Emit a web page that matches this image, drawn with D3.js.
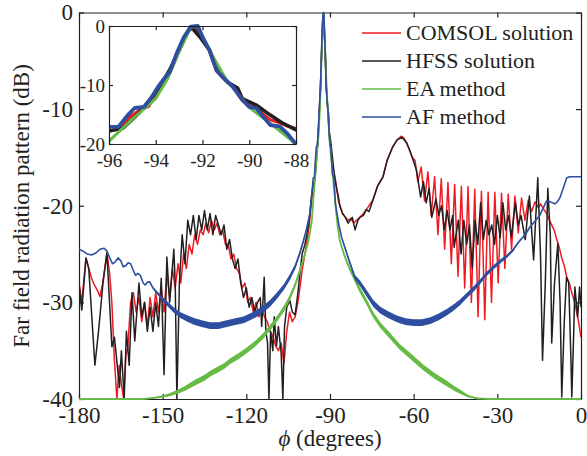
<!DOCTYPE html>
<html>
<head>
<meta charset="utf-8">
<script src="https://cdn.jsdelivr.net/npm/d3@7"></script>
<style>
body{margin:0;background:#fff}
svg text{font-family:"Liberation Serif","Times New Roman",serif;fill:#231f20}
</style>
</head>
<body>
<svg id="chart" width="587" height="456"></svg>
<script>
// values: [phi (deg), level (dB)]
var comsol = [
[-180,-28],[-179,-30],[-177.5,-25.4],[-176.5,-26.5],[-175.5,-27.5],[-174.5,-28.2],[-173.5,-28.7],[-172.5,-29.4],[-171.5,-28],[-170,-24.9],[-169,-27],[-168.2,-30.1],[-167.3,-36],[-166.4,-40],[-165.6,-36.5],[-164.8,-38.5],[-164,-40],[-163.2,-35.5],[-162.5,-34.7],[-161.5,-30],[-160.5,-29],[-159.5,-31],[-158.5,-29.5],[-157.5,-32],[-156.5,-30],[-155.5,-32.5],[-154.5,-29.5],[-153.5,-31.5],[-152.5,-29],[-151.5,-31],[-150.5,-28.5],[-149.5,-31],[-148.5,-27],[-147.5,-29.5],[-146.5,-26.5],[-145.5,-28.5],[-144.5,-26],[-143.5,-28],[-142.5,-25],[-141.5,-26.5],[-140.5,-24],[-139.5,-25],[-138.5,-23],[-137.5,-24],[-136.5,-22.5],[-135.5,-23],[-134.5,-21.8],[-133.5,-22.8],[-132.5,-21.5],[-131.5,-22.5],[-130.5,-21.8],[-129.5,-23],[-128.5,-22.5],[-127.5,-24],[-126.5,-24],[-125.5,-25.5],[-124.5,-25],[-123.5,-26.5],[-122.5,-27],[-121.5,-28.5],[-120.5,-28],[-119.5,-30],[-118.5,-29.5],[-117.5,-31],[-116.5,-30],[-115.5,-31.5],[-114.5,-30.5],[-113.5,-31.5],[-112.5,-32],[-111.5,-33],[-110.5,-33.5],[-109.5,-34.5],[-108.5,-35],[-107.5,-34.2],[-106.5,-36.3],[-105.5,-33],[-104.5,-31],[-103.5,-32],[-102.5,-31.5],[-101.5,-30],[-100.8,-28.5],[-100,-26.7],[-99,-25],[-98.2,-23.5],[-97.5,-22.2],[-96.6,-19.5],
[-96,-17.8],[-95.6,-17.5],[-95.1,-15.4],[-94.7,-14.3],[-94.3,-13.6],[-93.9,-10.8],[-93.6,-9.2],[-93.3,-7],[-93,-4.2],[-92.7,-1.5],[-92.5,-0.2],[-92.3,-0.1],[-92,-1.8],[-91.7,-4.3],[-91.4,-7.6],[-91.1,-8.9],[-90.7,-10.3],[-90.3,-12.6],[-90,-13.5],[-89.7,-13.8],[-89.4,-15],[-89.1,-15.9],[-88.7,-16.4],[-88.4,-16.9],[-88,-17.4],
[-87.5,-18.4],[-87,-19.5],[-86.3,-20.1],[-85.5,-20.8],[-84.5,-21.2],[-83.5,-21.5],[-82.5,-21.3],[-81.5,-21.8],[-80.5,-21.5],[-79.3,-21.2],[-78,-20.8],[-76.5,-20.2],[-74.6,-19.4],[-73,-18],[-71,-17],[-69.5,-15.3],[-67.5,-13.9],[-66,-13.2],[-64.5,-12.8],[-63.5,-13],[-62.5,-13.5],[-61.5,-14.2],[-60.5,-15],[-59.5,-15.3],
[-58.5,-17.5],[-57.3,-16],[-56.1,-19.5],[-54.9,-16.5],[-53.7,-21],[-52.5,-17],[-51.3,-23],[-50.1,-17.2],[-48.9,-24.5],[-47.7,-17.6],[-46.5,-26],[-45.3,-17.8],[-44.1,-27.3],[-42.9,-18],[-41.7,-28.5],[-40.5,-18],[-39.3,-30],[-38.1,-18.3],[-36.9,-31.5],[-35.7,-18.5],[-34.5,-31.8],[-33.3,-18.6],[-32.1,-30],[-30.9,-18.6],[-29.7,-28],[-28.5,-18.7],[-27.3,-26.5],[-26.1,-18.8],[-24.9,-24.5],[-23.7,-19],[-22.5,-22.8],[-21.3,-19.2],[-20.1,-21.5],[-18.9,-19.4],[-17.7,-20.6],[-16.5,-19.6],[-15.3,-20.2],
[-14.5,-19.8],[-13.5,-20.3],[-12.3,-20.8],[-11.3,-21.5],[-10.5,-22],[-9.5,-22.6],[-8.7,-23.5],[-7.8,-24.3],[-7,-25.3],[-6,-26.2],[-5.1,-27.4],[-4.2,-28],[-3.5,-28.8],[-2.8,-29.5],[-2.2,-30.1],[-1,-31.8],[0,-33.6]
];

var hfss = [
[-180,-28],[-179,-30.8],[-177.5,-25.4],[-176.5,-26.5],[-174.3,-36.5],[-173,-33],[-171.4,-28],[-170,-24.9],[-168.2,-34.6],[-167.3,-33.6],[-165.5,-38.8],[-164.8,-35],[-163.8,-40],[-163,-33],[-162,-36.5],[-161,-29],[-160,-34],[-158.5,-28],[-157.5,-31.5],[-156.5,-30],[-155.5,-33],[-154.5,-30.5],[-153.5,-33],[-152.5,-30],[-151.5,-32.5],[-150.5,-27.5],[-149.5,-37.5],[-148.5,-25.3],[-147.5,-30],[-146,-24.5],[-145.5,-28],[-144.9,-40],[-144,-28],[-143,-23],[-142,-26],[-141,-21.5],[-140,-23],[-139,-21],[-138,-23.5],[-137,-21],[-136,-22.5],[-135,-20.5],[-134,-22.5],[-133,-20.8],[-132,-23],[-131,-21],[-130,-22],[-129,-23],[-128,-22],[-127,-24.5],[-126,-23.5],[-125,-25.5],[-124,-26.5],[-123,-25.5],[-122,-28],[-121,-29.5],[-120,-28.5],[-119,-30.5],[-118,-29.5],[-117,-31],[-116,-30],[-115,-29.5],[-114.5,-32.5],[-113.6,-27.4],[-113,-33],[-112.4,-34.2],[-111.9,-40],[-111.3,-33],[-110.5,-35],[-110,-31.5],[-109.2,-34.5],[-108.5,-32.5],[-107.5,-35.3],[-106.9,-40],[-106.3,-32.5],[-105.5,-30.5],[-104.4,-29.8],[-103.5,-31],[-102.5,-31.3],[-101.5,-29],[-100.8,-27],[-100,-25],[-99,-24],[-98.3,-23],[-97.5,-21.5],[-96.6,-19],
[-96,-17.8],[-95.4,-17.3],[-94.7,-14.7],[-93.9,-10.8],[-93.4,-7.4],[-93,-4.1],[-92.6,-0.8],[-92.45,-0.3],[-92.1,-1.9],[-91.7,-4.1],[-91.3,-7.8],[-90.9,-9.6],[-90.5,-10.5],[-90.3,-12.3],[-89.7,-13.4],[-89.1,-15.1],[-88.6,-16.4],[-88,-17.6],
[-87.5,-18.4],[-87,-19],[-86.5,-20],[-85.5,-20.8],[-84.5,-21.2],[-83.5,-21.8],[-82,-21.2],[-81,-22.5],[-80,-21.5],[-79.3,-21.2],[-78,-21],[-77,-20.4],[-76,-20.6],[-74.6,-19.4],[-73,-18],[-71,-17],[-69.5,-15.3],[-67.5,-13.9],[-66,-13.2],[-64.2,-12.9],[-62.5,-13.5],[-61.5,-14.2],[-60.5,-15],[-59,-16.3],[-57.5,-19.1],[-56.5,-17.5],[-55.5,-19.7],[-54.5,-18.2],[-53.5,-21.2],[-52,-19.3],[-51,-21],[-50,-20],[-49,-22.5],[-48,-20.5],[-47,-22.5],[-46,-21],[-45.5,-24.3],[-44,-21.5],[-43,-25],[-42,-21.5],[-41,-24],[-40,-22],[-39,-26.5],[-38,-21.5],[-37,-24],[-36,-19.7],[-35,-23.5],[-34,-21.5],[-33,-23],[-32,-22],[-31,-24],[-30,-21],[-29,-23.3],[-28,-19.7],[-27,-22.5],[-26,-21],[-25,-23.2],[-23.5,-19.7],[-22.5,-22],[-21.5,-21],[-20,-23.5],[-18.5,-19],[-17,-25.6],[-15.5,-17.1],[-14.5,-25.3],[-13.8,-36],[-12.8,-28],[-11.9,-18.2],[-11,-23],[-10.5,-34.2],[-9.5,-28],[-8.3,-23.9],[-7.5,-30],[-6.9,-39.8],[-6,-32],[-5.2,-27.4],[-4.4,-28],[-3.6,-36],[-3.3,-39.8],[-2.6,-33],[-2.2,-28.4],[-1.2,-31.5],[-0.5,-28.4],[0,-30.5]
];

// [phi, level, ripple half-height (dB)]
var eaMethod = [
[-180,-40,0],[-157,-40,0],[-154,-39.9,0.05],[-151,-39.8,0.1],[-148,-39.6,0.15],[-145,-39.3,0.2],[-142,-38.9,0.25],[-138.4,-38.3,0.3],[-135,-37.8,0.3],[-132.5,-37.3,0.3],[-130.5,-37,0.3],[-128,-36.6,0.3],[-125.9,-36.1,0.3],[-123,-35.6,0.3],[-120.5,-35.1,0.3],[-118.7,-34.7,0.3],[-116.5,-34.2,0.3],[-114,-33.5,0.3],[-112,-32.8,0.3],[-110,-32.1,0.3],[-108,-31.3,0.3],[-106,-30.4,0.3],[-104.4,-29.5,0.3],[-102.5,-28.2,0.28],[-100.8,-26.7,0.25],[-99.5,-25.5,0.2],[-98.3,-24.3,0.15],[-97.3,-23,0.1],[-96.5,-21.5,0.05],
[-96,-19.5,0],[-95,-15.8,0],[-94,-12.3,0],[-93.5,-9,0],[-93,-4.3,0],[-92.5,-0.2,0],[-92.2,0,0],[-91.7,-4.2,0],[-91,-9,0],[-90,-13.8,0],[-89,-16.8,0],[-88,-20,0],
[-87.3,-22,0.05],[-86.5,-23.6,0.1],[-85,-25,0.15],[-83,-26.5,0.2],[-81,-27.7,0.25],[-79.3,-28.7,0.3],[-77,-29.9,0.3],[-74.5,-31.3,0.3],[-72.1,-32.3,0.3],[-69,-33.3,0.3],[-65,-34.6,0.3],[-61,-35.6,0.3],[-56.7,-36.7,0.3],[-52.5,-37.6,0.3],[-48.1,-38.4,0.28],[-45.5,-38.9,0.25],[-43,-39.3,0.2],[-40.5,-39.7,0.12],[-37,-39.95,0.05],[-32.7,-40,0],[0,-40,0]
];

var afMethod = [
[-180,-24.5,0],[-178.5,-24.7,0],[-177,-25,0],[-175.5,-25.1,0],[-174,-24.9,0],[-172.5,-24.5,0],[-171,-24.4,0],[-170,-24.7,0],[-169,-25.4,0],[-168,-26,0],[-167,-25.8,0],[-166,-25.4,0],[-165,-25.7,0],[-164.2,-26.3,0],[-163.2,-26.2,0],[-162.4,-25.9,0],[-161.5,-26,0],[-160.5,-26.7,0],[-159.7,-27.2,0],[-158.9,-27,0],[-158,-27.2,0],[-157,-28,0.03],[-156.3,-28.2,0.05],[-155.4,-27.9,0.05],[-154.6,-27.9,0.08],[-153.5,-28.5,0.1],[-152,-29,0.15],[-150.5,-29.5,0.2],[-148.5,-30.1,0.25],[-146,-30.8,0.28],[-143.8,-31.3,0.3],[-141,-31.7,0.33],[-138.5,-32,0.35],[-136,-32.2,0.35],[-133,-32.4,0.35],[-130,-32.4,0.35],[-127,-32.2,0.35],[-124,-32,0.35],[-121,-31.8,0.35],[-118.7,-31.5,0.35],[-116,-31.1,0.35],[-113.5,-30.6,0.35],[-111.5,-30.1,0.35],[-109,-29.3,0.33],[-106.5,-28.4,0.3],[-104.4,-27.4,0.3],[-102.5,-26.3,0.28],[-100.8,-24.9,0.25],[-99.5,-23.6,0.2],[-98.5,-22.5,0.15],[-97.2,-20.8,0.05],
[-96,-17.1,0],[-95.6,-17.1,0],[-95.2,-15.1,0],[-94.9,-13.9,0],[-94.5,-13.7,0],[-94.2,-12.2,0],[-93.9,-10.3,0],[-93.7,-9.2,0],[-93.4,-7.8,0],[-93.1,-4.6,0],[-92.8,-1.9,0],[-92.5,-0.1,0],[-92.2,0,0],[-92,-1.9,0],[-91.7,-4.1,0],[-91.4,-7.5,0],[-91.1,-8.8,0],[-90.7,-10.3,0],[-90.3,-12.5,0],[-90,-13.7,0],[-89.7,-13.9,0],[-89.4,-15.4,0],[-89.1,-16.8,0],[-88.7,-17,0],[-88.4,-18.1,0],[-88.05,-19.8,0],
[-87.5,-20.8,0.03],[-86.8,-22,0.05],[-85.8,-23.3,0.1],[-84.7,-24.3,0.15],[-83,-25.8,0.2],[-81.1,-27.4,0.25],[-79.3,-28,0.3],[-77,-29,0.33],[-74.5,-30.1,0.35],[-72,-30.8,0.35],[-69,-31.3,0.35],[-66,-31.7,0.35],[-63,-32,0.35],[-60,-32.1,0.35],[-57,-32.1,0.35],[-54,-31.9,0.35],[-51,-31.5,0.35],[-48,-31,0.33],[-45.5,-30.5,0.32],[-43.4,-30,0.3],[-41,-29.3,0.28],[-38.5,-28.6,0.27],[-36.3,-27.9,0.25],[-34,-27.1,0.23],[-31.5,-26.4,0.22],[-29.1,-25.8,0.2],[-26.5,-25.2,0.18],[-24.4,-24.6,0.15],[-23,-24,0.12],[-21.9,-23.6,0.1],[-20,-23,0.08],[-18.3,-22.2,0.05],[-16.5,-21.6,0.03],[-14.8,-21,0],[-13.5,-20.2,0],[-12.3,-19.5,0],[-11,-19.6,0],[-9.4,-19.8,0],[-8.5,-19.6,0],[-7.6,-19.2,0],[-6.5,-18.3,0],[-5.1,-17.1,0],[-4,-17,0],[0,-17,0]
];

var seriesNames = ["COMSOL solution", "HFSS solution", "EA method", "AF method"];
var seriesColors = ["#ed1c24", "#231f20", "#66bb46", "#2e4fa0"];
var xTicks = [-180, -150, -120, -90, -60, -30, 0];
var yTicks = [0, -10, -20, -30, -40];
var insetXTicks = [-96, -94, -92, -90, -88];
var insetYTicks = [0, -10, -20];

var svg = d3.select("#chart");
var font = '"Liberation Serif","Times New Roman",serif';

var x = d3.scaleLinear().domain([-180, 0]).range([79, 581]);
var y = d3.scaleLinear().domain([-40, 0]).range([399, 12.5]);

svg.append("defs").append("clipPath").attr("id", "mainClip")
  .append("rect").attr("x", 79).attr("y", 11).attr("width", 502).attr("height", 390);

// axes box with inward ticks
var fmt = function(d) { return String(d); };
svg.append("g").attr("transform", "translate(0,399)")
  .call(d3.axisBottom(x).tickValues(xTicks).tickSize(-5).tickSizeOuter(0).tickPadding(8).tickFormat(fmt));
svg.append("g").attr("transform", "translate(0,12.5)")
  .call(d3.axisTop(x).tickValues(xTicks).tickSize(-5).tickSizeOuter(0).tickFormat(""));
svg.append("g").attr("transform", "translate(79,0)")
  .call(d3.axisLeft(y).tickValues(yTicks).tickSize(-5).tickSizeOuter(0).tickPadding(6).tickFormat(fmt));
svg.append("g").attr("transform", "translate(581,0)")
  .call(d3.axisRight(y).tickValues(yTicks).tickSize(-5).tickSizeOuter(0).tickFormat(""));

svg.selectAll(".domain, .tick line").attr("stroke", "#231f20").attr("stroke-width", 1.2);
svg.selectAll(".tick text").style("font-size", "23px").attr("font-family", font).attr("fill", "#231f20");

function drawSeries(g, data, xs, ys, color, w, band) {
  if (band) {
    g.append("path").datum(data)
      .attr("fill", color).attr("stroke", "none")
      .attr("d", d3.area().x(function(d) { return xs(d[0]); })
        .y0(function(d) { return ys(d[1] - d[2]); })
        .y1(function(d) { return ys(d[1] + d[2]); }));
  }
  g.append("path").datum(data)
    .attr("fill", "none").attr("stroke", color).attr("stroke-width", w)
    .attr("stroke-linejoin", "round")
    .attr("d", d3.line().x(function(d) { return xs(d[0]); }).y(function(d) { return ys(d[1]); }));
}

var plot = svg.append("g").attr("clip-path", "url(#mainClip)");
drawSeries(plot, comsol, x, y, seriesColors[0], 1.5, false);
drawSeries(plot, hfss, x, y, seriesColors[1], 1.5, false);
drawSeries(plot, eaMethod, x, y, seriesColors[2], 1.8, true);
drawSeries(plot, afMethod, x, y, seriesColors[3], 1.6, true);

// axis labels
svg.append("text").attr("x", 330).attr("y", 446).attr("text-anchor", "middle")
  .style("font-size", "23px")
  .call(function(t) {
    t.append("tspan").style("font-style", "italic").text("\u03d5");
    t.append("tspan").text(" (degrees)");
  });
svg.append("text").attr("transform", "translate(29,206) rotate(-90)")
  .attr("text-anchor", "middle").style("font-size", "23px")
  .text("Far field radiation pattern (dB)");

// legend
var legend = svg.append("g");
seriesNames.forEach(function(name, i) {
  var ly = 33 + i * 28;
  legend.append("line").attr("x1", 362).attr("x2", 401).attr("y1", ly).attr("y2", ly)
    .attr("stroke", seriesColors[i]).attr("stroke-width", 1.5);
  legend.append("text").attr("x", 406).attr("y", ly + 7).style("font-size", "22px").text(name);
});

// inset
var xi = d3.scaleLinear().domain([-96, -88]).range([109, 296]);
var yi = d3.scaleLinear().domain([-20, 0]).range([144, 26]);
svg.append("rect").attr("x", 109).attr("y", 26).attr("width", 187).attr("height", 118).attr("fill", "#fff");
svg.select("defs").append("clipPath").attr("id", "insetClip")
  .append("rect").attr("x", 109).attr("y", 24).attr("width", 187).attr("height", 121);

var inRange = function(d) { return d[0] >= -97.5 && d[0] <= -86.5; };
var inset = svg.append("g").attr("clip-path", "url(#insetClip)");
drawSeries(inset, comsol.filter(inRange), xi, yi, seriesColors[0], 3.2, false);
drawSeries(inset, hfss.filter(inRange), xi, yi, seriesColors[1], 3.6, false);
drawSeries(inset, eaMethod.filter(inRange), xi, yi, seriesColors[2], 3, false);
drawSeries(inset, afMethod.filter(inRange), xi, yi, seriesColors[3], 3.8, false);

var ia = svg.append("g").attr("class", "insetAxes");
ia.append("g").attr("transform", "translate(0,144)")
  .call(d3.axisBottom(xi).tickValues(insetXTicks).tickSize(-4).tickSizeOuter(0).tickPadding(10).tickFormat(fmt));
ia.append("g").attr("transform", "translate(0,26)")
  .call(d3.axisTop(xi).tickValues(insetXTicks).tickSize(-4).tickSizeOuter(0).tickFormat(""));
ia.append("g").attr("transform", "translate(109,0)")
  .call(d3.axisLeft(yi).tickValues(insetYTicks).tickSize(-4).tickSizeOuter(0).tickPadding(4).tickFormat(fmt));
ia.append("g").attr("transform", "translate(296,0)")
  .call(d3.axisRight(yi).tickValues(insetYTicks).tickSize(-4).tickSizeOuter(0).tickFormat(""));
ia.selectAll(".domain, .tick line").attr("stroke", "#231f20").attr("stroke-width", 1.2);
ia.selectAll(".tick text").style("font-size", "19px").attr("font-family", font).attr("fill", "#231f20");
</script>
</body>
</html>
